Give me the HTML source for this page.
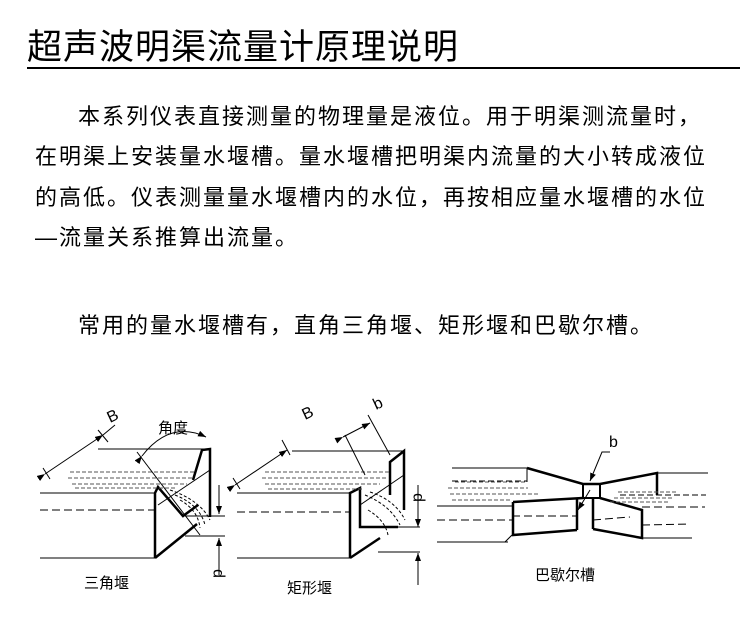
<!DOCTYPE html>
<html><head><meta charset="utf-8"><style>
html,body{margin:0;padding:0;background:#fff;}
body{width:756px;height:623px;position:relative;overflow:hidden;font-family:"Liberation Sans","Noto Sans CJK SC",sans-serif;color:#000;}
.t{position:absolute;white-space:nowrap;font-size:22px;letter-spacing:2px;line-height:24px;}
#title{position:absolute;left:27px;top:28px;font-size:35px;letter-spacing:1px;line-height:40px;white-space:nowrap;}
#ul{position:absolute;left:27px;top:67px;width:713px;height:2px;background:#000;}
svg{position:absolute;left:0;top:0;}
</style></head><body>
<div id="title">超声波明渠流量计原理说明</div>
<div id="ul"></div>
<div class="t" style="left:78px;top:105px">本系列仪表直接测量的物理量是液位。用于明渠测流量时，</div>
<div class="t" style="left:35px;top:145px">在明渠上安装量水堰槽。量水堰槽把明渠内流量的大小转成液位</div>
<div class="t" style="left:35px;top:186px">的高低。仪表测量量水堰槽内的水位，再按相应量水堰槽的水位</div>
<div class="t" style="left:35px;top:226px">—流量关系推算出流量。</div>
<div class="t" style="left:78px;top:314px">常用的量水堰槽有，直角三角堰、矩形堰和巴歇尔槽。</div>
<svg width="756" height="623" viewBox="0 0 756 623" fill="none" stroke="#000" stroke-width="1">
<defs><marker id="a" markerWidth="8" markerHeight="6" refX="8" refY="3" orient="auto"><path d="M0,0L8,3L0,6z" fill="#000" stroke="none"/></marker></defs>
<g>
<line x1="40" y1="493" x2="155" y2="493"/>
<line x1="40" y1="558" x2="155" y2="558"/>
<line x1="40" y1="510" x2="155" y2="510" stroke-dasharray="8,4"/>
<line x1="98" y1="449" x2="210" y2="449"/>
<path d="M155,558V493L158,487L183,516L198,505" stroke-width="2.5"/>
<path d="M155,558L197,524" stroke-width="2.5"/>
<path d="M193,480L202,450L210,449V517" stroke-width="2.5"/>
<line x1="158" y1="505" x2="210" y2="470"/>
<line x1="185" y1="516" x2="225" y2="516"/>
<line x1="185" y1="536" x2="225" y2="536"/>
<path d="M170,490Q200,500 210,520M175,495Q200,505 205,525M180,500Q198,510 200,528" stroke-dasharray="3,2"/>
<path d="M70,472h125M68,478h125M72,484h115M75,488h100" stroke-dasharray="4,2" stroke="#555"/>
<line x1="45" y1="474" x2="103" y2="435" marker-start="url(#a)" marker-end="url(#a)"/>
<line x1="43" y1="468" x2="50" y2="479"/>
<line x1="98" y1="430" x2="108" y2="442"/>
<line x1="103" y1="435" x2="115" y2="425"/>
<line x1="137" y1="452" x2="200" y2="535"/>
<path d="M142,456Q170,420 206,437" marker-start="url(#a)" marker-end="url(#a)"/>
<line x1="219" y1="485" x2="219" y2="514" marker-end="url(#a)"/>
<line x1="219" y1="575" x2="219" y2="538" marker-end="url(#a)"/>
</g>
<text x="110" y="423" font-family="Liberation Sans" font-size="16" fill="#000" stroke="none" transform="rotate(-25 110 423)">B</text>
<text x="158" y="433" font-family="Liberation Sans,Noto Sans CJK SC" font-size="15" fill="#000" stroke="none">角度</text>
<text x="222" y="578" font-family="Liberation Sans" font-size="16" fill="#000" stroke="none" transform="rotate(-90 222 578)">p</text>
<text x="84" y="588" font-family="Liberation Sans,Noto Sans CJK SC" font-size="15" fill="#000" stroke="none">三角堰</text>
<g>
<line x1="237" y1="493" x2="350" y2="493"/>
<line x1="237" y1="558" x2="350" y2="558"/>
<line x1="237" y1="512" x2="350" y2="512" stroke-dasharray="8,4"/>
<line x1="292" y1="451" x2="404" y2="451"/>
<path d="M350,558V493L360,488V527H398" stroke-width="2.5"/>
<path d="M350,558L380,538" stroke-width="2.5"/>
<path d="M390,495V462L404,451V510" stroke-width="2.5"/>
<line x1="360" y1="505" x2="404" y2="475"/>
<line x1="385" y1="527" x2="420" y2="527"/>
<line x1="378" y1="552" x2="420" y2="552"/>
<path d="M365,495Q390,505 400,525M370,492Q395,500 405,520M368,510Q385,520 388,535" stroke-dasharray="3,2"/>
<path d="M265,472h125M262,478h125M265,484h115M268,489h95" stroke-dasharray="4,2" stroke="#555"/>
<line x1="235" y1="485" x2="287" y2="450" marker-start="url(#a)" marker-end="url(#a)"/>
<line x1="233" y1="478" x2="240" y2="489"/>
<line x1="282" y1="440" x2="290" y2="455"/>
<line x1="343" y1="437" x2="370" y2="423" marker-start="url(#a)" marker-end="url(#a)"/>
<line x1="345" y1="435" x2="365" y2="475"/>
<line x1="368" y1="415" x2="390" y2="455"/>
<line x1="418" y1="485" x2="418" y2="527" marker-end="url(#a)"/>
<line x1="418" y1="585" x2="418" y2="553" marker-end="url(#a)"/>
</g>
<text x="305" y="420" font-family="Liberation Sans" font-size="16" fill="#000" stroke="none" transform="rotate(-25 305 420)">B</text>
<text x="376" y="410" font-family="Liberation Sans" font-size="16" fill="#000" stroke="none" transform="rotate(-25 376 410)">b</text>
<text x="422" y="502" font-family="Liberation Sans" font-size="16" fill="#000" stroke="none" transform="rotate(-90 422 502)">p</text>
<text x="287" y="593" font-family="Liberation Sans,Noto Sans CJK SC" font-size="15" fill="#000" stroke="none">矩形堰</text>
<g>
<line x1="452" y1="468" x2="527" y2="468"/>
<line x1="437" y1="506" x2="512" y2="506"/>
<line x1="437" y1="542" x2="508" y2="542"/>
<line x1="437" y1="520" x2="512" y2="520" stroke-dasharray="8,4"/>
<path d="M527,468V482" />
<path d="M527,468L583,484H600L657,473V495" stroke-width="2.5"/>
<line x1="657" y1="473" x2="708" y2="473"/>
<path d="M583,484V498H600V484" stroke-width="2"/>
<path d="M513,502L583,498M600,498L642,510V538L593,529M513,502V535L577,530" stroke-width="2.5"/>
<line x1="577" y1="498" x2="577" y2="530" stroke-width="2.5"/>
<line x1="593" y1="498" x2="593" y2="529" stroke-width="2.5"/>
<line x1="512" y1="535" x2="505" y2="542"/>
<line x1="642" y1="538" x2="692" y2="538"/>
<line x1="642" y1="507" x2="705" y2="507" stroke-dasharray="8,4"/>
<line x1="642" y1="525" x2="690" y2="524" stroke-dasharray="8,4"/>
<path d="M512,516L577,516M593,520L630,517" stroke-dasharray="8,4"/>
<path d="M455,482h70M448,488h80M450,494h90M452,500h60M614,498h60M610,502h60M618,492h60" stroke-dasharray="4,2" stroke="#555"/>
<line x1="452" y1="481" x2="527" y2="481" stroke-dasharray="6,3"/>
<line x1="620" y1="495" x2="706" y2="495" stroke-dasharray="6,3"/>
<path d="M610,452H602L590,481" marker-end="url(#a)"/>
<path d="M590,490L578,510" marker-end="url(#a)"/>
</g>
<text x="609" y="447" font-family="Liberation Sans" font-size="16" fill="#000" stroke="none">b</text>
<text x="535" y="580" font-family="Liberation Sans,Noto Sans CJK SC" font-size="15" fill="#000" stroke="none">巴歇尔槽</text>
</svg>
</body></html>
